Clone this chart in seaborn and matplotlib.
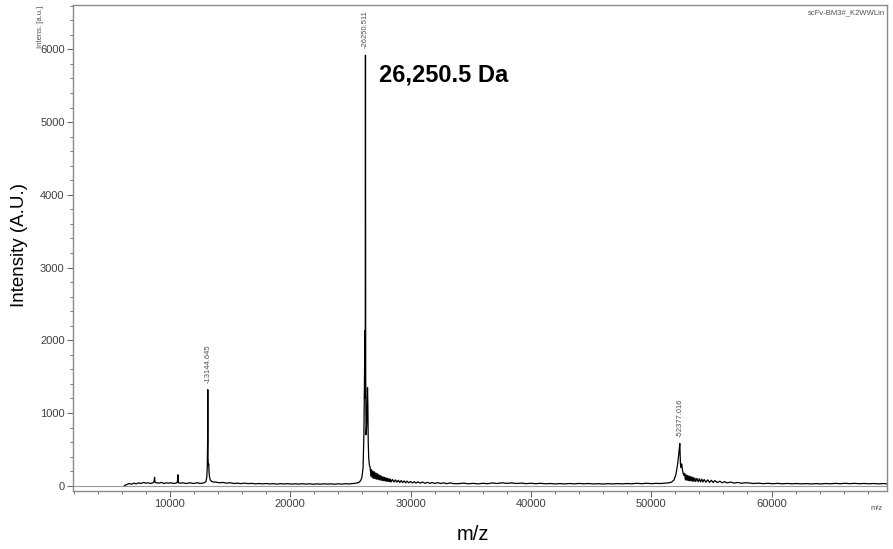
import matplotlib
matplotlib.use("Agg")
import matplotlib.pyplot as plt
import seaborn as sns
import pandas as pd
from matplotlib.ticker import MultipleLocator

# ---------------- data ----------------
low_mz = [6200, 6400, 6600, 6800, 7000, 7200, 7400, 7600, 7800, 8000, 8200, 8400, 8600,
          8680, 8720, 8760, 8900, 9100, 9300, 9500, 9700, 9900, 10100, 10300, 10500, 10620,
          10660, 10700, 10900, 11100, 11300, 11500, 11700, 11900, 12100, 12300, 12500, 12700, 12900]
low_int = [0, 15, 30, 20, 35, 25, 40, 30, 45, 35, 40, 30, 40,
           60, 115, 45, 40, 35, 45, 30, 40, 35, 40, 30, 35, 50,
           150, 40, 35, 40, 30, 35, 40, 30, 35, 40, 30, 35, 45]

p1_mz = [13000, 13060, 13100, 13130, 13145, 13160, 13190, 13220, 13250, 13290, 13350, 13450, 13600]
p1_int = [60, 120, 250, 600, 1320, 400, 280, 300, 180, 120, 80, 60, 50]

mid1_mz = [13800, 14100, 14400, 14700, 15000, 15300, 15600, 15900, 16200, 16500, 16800, 17100,
           17400, 17700, 18000, 18300, 18600, 18900, 19200, 19500, 19800, 20100, 20400, 20700,
           21000, 21300, 21600, 21900, 22200, 22500, 22800, 23100, 23400, 23700, 24000, 24300,
           24600, 24900, 25200, 25500, 25700]
mid1_int = [50, 40, 45, 35, 40, 30, 35, 28, 35, 28, 32, 25,
            30, 25, 30, 24, 28, 22, 28, 24, 28, 22, 26, 22,
            27, 22, 26, 20, 25, 21, 26, 22, 25, 20, 26, 22,
            27, 24, 30, 35, 45]

p2_mz = [25850, 25950, 26050, 26120, 26170, 26200, 26230, 26250, 26270, 26300, 26340, 26380,
         26420, 26450, 26480, 26520, 26580]
p2_int = [70, 110, 250, 700, 1500, 2130, 1200, 5920, 1500, 700, 800, 1000,
          1350, 1100, 600, 380, 280]

tail2_mz = [26640, 26700, 26760, 26820, 26880, 26940, 27000, 27060, 27120, 27180, 27240, 27300,
            27360, 27420, 27480, 27540, 27600, 27660, 27720, 27780, 27840, 27900, 27960, 28020,
            28080, 28140, 28200, 28260, 28320, 28380, 28500, 28620, 28740, 28860, 28980, 29100,
            29220, 29340, 29460, 29580, 29700, 29850, 30000, 30150, 30300, 30450, 30600, 30800,
            31000, 31200, 31400, 31600, 31800, 32000, 32250, 32500, 32750, 33000, 33300, 33600]
tail2_int = [250, 130, 220, 110, 200, 100, 190, 95, 175, 90, 165, 85,
             150, 80, 140, 75, 130, 70, 120, 68, 115, 64, 108, 60,
             100, 58, 95, 55, 90, 52, 85, 50, 80, 48, 75, 45,
             70, 43, 66, 40, 62, 40, 58, 38, 55, 36, 52, 35,
             50, 33, 46, 32, 44, 30, 42, 30, 40, 28, 38, 28]

mid2_mz = [34000, 34400, 34800, 35200, 35600, 36000, 36400, 36800, 37200, 37600, 38000, 38400,
           38800, 39200, 39600, 40000, 40400, 40800, 41200, 41600, 42000, 42400, 42800, 43200,
           43600, 44000, 44400, 44800, 45200, 45600, 46000, 46400, 46800, 47200, 47600, 48000,
           48400, 48800, 49200, 49600, 50000, 50400, 50800, 51200, 51500]
mid2_int = [28, 35, 26, 32, 25, 33, 27, 38, 30, 40, 32, 38,
            30, 36, 28, 34, 27, 33, 26, 30, 24, 29, 24, 30,
            25, 31, 26, 30, 24, 28, 23, 28, 24, 29, 25, 30,
            26, 33, 27, 34, 28, 32, 30, 36, 40]

p3_mz = [51700, 51900, 52050, 52200, 52300, 52377, 52430, 52480, 52530, 52580, 52650, 52720]
p3_int = [50, 80, 150, 300, 450, 580, 300, 250, 300, 240, 170, 140]

tail3_mz = [52780, 52840, 52900, 52960, 53020, 53080, 53140, 53200, 53260, 53320, 53380, 53440,
            53500, 53560, 53620, 53700, 53800, 53900, 54000, 54100, 54200, 54300, 54400, 54550,
            54700, 54850, 55000, 55150, 55300, 55500, 55700, 55900, 56100, 56300, 56600, 56900,
            57200, 57500, 57800]
tail3_int = [170, 80, 150, 75, 140, 70, 135, 68, 125, 65, 120, 62,
             110, 60, 105, 58, 100, 55, 95, 52, 90, 50, 85, 48,
             80, 46, 75, 44, 70, 42, 62, 40, 56, 38, 50, 35,
             45, 33, 40]

high_mz = [58100, 58500, 58900, 59300, 59700, 60100, 60500, 60900, 61300, 61700, 62100, 62500,
           62900, 63300, 63700, 64100, 64500, 64900, 65300, 65700, 66100, 66500, 66900, 67300,
           67700, 68100, 68500, 68900, 69300, 69600]
high_int = [38, 30, 35, 28, 33, 27, 32, 26, 31, 26, 30, 25,
            29, 24, 29, 24, 30, 26, 32, 27, 33, 28, 32, 27,
            31, 26, 30, 25, 29, 25]

peak_mz = [13144.645, 26250.511, 52377.016]
peak_int = [1320, 5920, 580]
peak_labels = ["-13144.645", "-26250.511", "-52377.016"]

x_ticks = [10000, 20000, 30000, 40000, 50000, 60000]
y_ticks = [0, 1000, 2000, 3000, 4000, 5000, 6000]

spectrum = pd.DataFrame({
    "mz": low_mz + p1_mz + mid1_mz + p2_mz + tail2_mz + mid2_mz + p3_mz + tail3_mz + high_mz,
    "intensity": low_int + p1_int + mid1_int + p2_int + tail2_int + mid2_int + p3_int + tail3_int + high_int,
})

# ---------------- figure ----------------
sns.set_theme(style="white")
plt.rcParams["font.family"] = ["Liberation Sans", "DejaVu Sans"]

W, H = 893, 549
fig = plt.figure(figsize=(W / 100, H / 100), dpi=100)
ax = fig.add_axes([73 / W, 1 - 491 / H, (887 - 73) / W, (491 - 5) / H])

ax.axhline(0, color="#9a9a9a", lw=0.8, zorder=1)
sns.lineplot(data=spectrum, x="mz", y="intensity", color="black", lw=0.9,
             estimator=None, sort=False, ax=ax, zorder=2)

ax.set_xlim(1940, 69600)
ax.set_ylim(-73, 6610)
ax.set_xticks(x_ticks)
ax.set_yticks(y_ticks)
ax.xaxis.set_minor_locator(MultipleLocator(2000))
ax.yaxis.set_minor_locator(MultipleLocator(200))
ax.tick_params(axis="both", which="major", direction="out", length=4, width=0.7,
               colors="#606060", labelcolor="#404040", labelsize=8, pad=2,
               bottom=True, left=True)
ax.tick_params(axis="both", which="minor", direction="out", length=2.5, width=0.6,
               colors="#606060", bottom=True, left=True)
for s in ax.spines.values():
    s.set_color("#8a8a8a")
    s.set_linewidth(1.0)
ax.set_xlabel("")
ax.set_ylabel("")

# peak annotations
for x, y, lab in zip(peak_mz, peak_int, peak_labels):
    ax.annotate(lab, xy=(x, y), xytext=(0, 5), textcoords="offset points",
                rotation=90, ha="center", va="bottom", fontsize=5.5, color="#505050")

ax.annotate("26,250.5 Da", xy=(26250.5, 5920), xytext=(10, -6), textcoords="offset points",
            ha="left", va="top", fontsize=17, fontweight="bold", color="black")

# outer labels
fig.text(20 / W, 1 - 245 / H, "Intensity (A.U.)", rotation=90, ha="center", va="center",
         fontsize=13.5, color="black")
fig.text(473 / W, 1 - 535 / H, "m/z", ha="center", va="center", fontsize=14.5, color="black")
fig.text(40 / W, 1 - 27 / H, "Intens. [a.u.]", rotation=90, ha="center", va="center",
         fontsize=5.5, color="#505050")
fig.text(883 / W, 1 - 508 / H, "m/z", ha="right", va="center", fontsize=5.5, color="#505050")
fig.text(885 / W, 1 - 13 / H, "scFv-BM3#_K2WWLin", ha="right", va="center",
         fontsize=5.5, color="#505050")

fig.savefig("out.png", dpi=100, facecolor="white")
